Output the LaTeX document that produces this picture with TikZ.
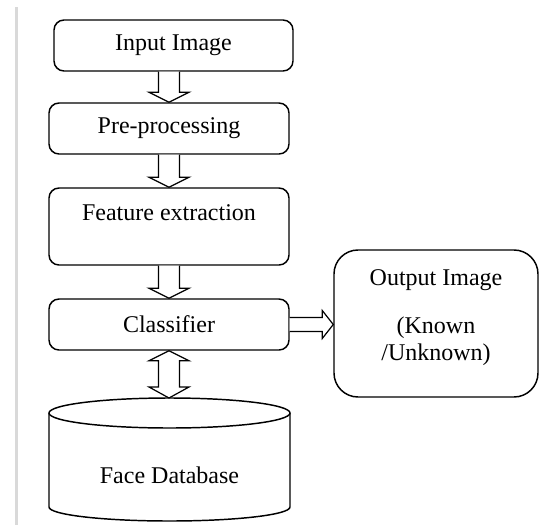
\documentclass[tikz,border=0pt]{standalone}
\usepackage{fontspec}
\setmainfont{Liberation Serif}
\usetikzlibrary{calc}
\newcommand\blkdown[2]{%
  \draw[barrow] ($(#1.south -| #2.north)+(-10.5,0)$) -- ($(#2.north)+(-10.5,10)$) -- ($(#2.north)+(-20,10)$) -- (#2.north) -- ($(#2.north)+(20,10)$) -- ($(#2.north)+(10.5,10)$) -- ($(#1.south -| #2.north)+(10.5,0)$);}
\begin{document}
\begin{tikzpicture}[x=0.75pt,y=0.75pt,
  box/.style={draw, line width=1.1pt, rounded corners=7.5pt, inner sep=0pt},
  lbl/.style={font=\fontsize{18}{22}\selectfont, inner sep=0pt},
  barrow/.style={draw, line width=0.9pt, fill=white, line join=miter}]
\useasboundingbox (0,0) rectangle (539,-525);
\fill[black!15] (15,-7) rectangle (18,-525);
% boxes
\node[box, lbl, minimum width=179.25pt, minimum height=38.25pt] (inp) at (173.5,-45.5) {Input Image};
\node[box, lbl, minimum width=180pt, minimum height=38.25pt] (pre) at (169,-128.5) {Pre-processing};
\node[box, minimum width=180pt, minimum height=57.75pt] (feat) at (169,-226.5) {};
\node[lbl] (feattxt) at (169,-213) {Feature extraction};
\node[box, lbl, minimum width=180pt, minimum height=38.25pt] (cls) at (169,-324.5) {Classifier};
\node[box, rounded corners=18pt, minimum width=153pt, minimum height=110.25pt] (out) at (436,-323.5) {};
\node[lbl] (out1) at (436,-280) {Output Image};
\node[lbl] (out2) at (436,-328) {(Known};
\node[lbl] (out3) at (436,-355) {/Unknown)};
% database cylinder
\draw[line width=1.1pt] (49,-413) -- (49,-507) arc[start angle=180, end angle=360, x radius=90.375pt, y radius=10.5pt] -- (290,-413);
\draw[line width=1.1pt] (169.5,-413) ellipse[x radius=90.375pt, y radius=11.25pt];
\coordinate (dbtop) at (169,-398);
\node[lbl] (db) at (169.5,-475) {Face Database};
% block arrows
\blkdown{inp}{pre}
\blkdown{pre}{feat}
\blkdown{feat}{cls}
\draw[barrow] (cls.south) -- ++(-20,-10) -- ++(9.5,0) -- ($(dbtop)+(-10.5,11)$) -- ++(-9.5,0) -- (dbtop) -- ++(20,11) -- ++(-9.5,0) -- ($(cls.south)+(10.5,-10)$) -- ++(9.5,0) -- cycle;
\draw[barrow] ($(cls.east)+(0,7)$) -- ($(out.west |- cls.east)+(-11,7)$) -- ++(0,7) -- (out.west |- cls.east) -- ++(-11,-14) -- ++(0,7) -- ($(cls.east)+(0,-7)$);
\end{tikzpicture}
\end{document}
